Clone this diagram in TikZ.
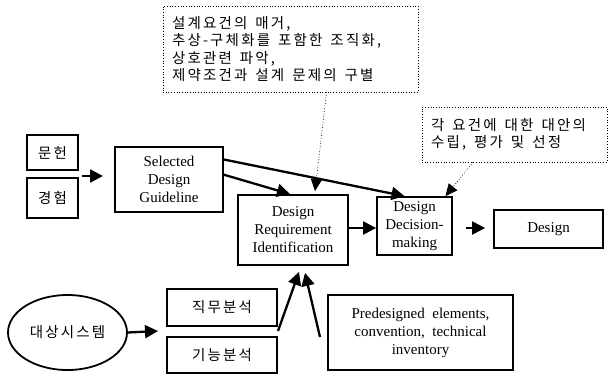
\documentclass[tikz,border=0pt]{standalone}
\usepackage{fontspec}
\setmainfont{Liberation Serif}
\newfontfamily\kr[LetterSpace=15]{Noto Sans CJK KR}
\newcommand\ks{\hspace{8pt}}
\usetikzlibrary{arrows.meta,shapes.geometric}
\begin{document}
\begin{tikzpicture}[x=1pt,y=-1pt,
  box/.style={draw,line width=1.8pt,rectangle,align=center,inner sep=0pt,
    font=\fontsize{15}{18}\selectfont},
  krbox/.style={box,font=\kr\fontsize{14.5}{18}\selectfont},
  callout/.style={draw,dotted,line width=0.7pt,rectangle,inner xsep=9pt,inner ysep=0pt,
    align=left,font=\kr\fontsize{14.5}{17.5}\selectfont},
  arr/.style={line width=2.3pt,-{Triangle[length=13pt,width=13pt]}},
  darr/.style={dotted,line width=0.7pt,-{Triangle[length=12pt,width=11pt]}}
]
\useasboundingbox (0,0) rectangle (613,375);

% left inputs
\node[krbox,minimum width=51pt,minimum height=35pt] (mun) at (52.5,152.5) {문헌};
\node[krbox,minimum width=51pt,minimum height=40pt] (gy) at (52.5,198) {경험};
\node[box,minimum width=108pt,minimum height=65pt] (sdg) at (169,179.5) {Selected\\Design\\Guideline};
\node[box,minimum width=110pt,minimum height=70pt] (dri) at (293,230) {Design\\Requirement\\Identification};
\node[box,minimum width=75pt,minimum height=58pt] (ddm) at (414.5,226) {Design\\Decision-\\making};
\node[box,minimum width=109pt,minimum height=38pt] (des) at (548.5,229) {Design};

% bottom
\node[draw,line width=1.8pt,ellipse,minimum width=119pt,minimum height=75pt,inner sep=0pt,
  font=\kr\fontsize{14.5}{18}\selectfont] (sys) at (67.5,332.5) {대상시스템};
\node[krbox,minimum width=110pt,minimum height=37pt] (jm) at (222,307.5) {직무분석};
\node[krbox,minimum width=110pt,minimum height=36pt] (gn) at (222,355) {기능분석};
\node[box,minimum width=185pt,minimum height=75pt] (pre) at (420.5,332.5)
  {Predesigned~ elements,\\convention,~ technical\\inventory};

% callouts
\node[callout,text width=237pt,minimum height=86pt] (tc) at (290.5,49)
  {설계요건의\ks 매거,\\추상-구체화를\ks 포함한\ks 조직화,\\상호관련\ks 파악,\\제약조건과\ks 설계\ks 문제의\ks 구별};
\node[callout,text width=167pt,minimum height=55pt] (rc) at (514.5,134.5)
  {각\ks 요건에\ks 대한\ks 대안의\\수립,\ks 평가\ks 및\ks 선정};

% coordinates for free ends
\coordinate (mgs) at (82,176);
\coordinate (mge) at (103,176);
\coordinate (sysE) at (158,331);
\coordinate (jgs) at (278,331);
\coordinate (prs) at (320,337);

% connectors
\draw[arr] (mgs) -- (mge);
\draw[arr] (sdg.20) -- ([xshift=-10pt]ddm.north);
\draw[arr] (sdg.5) -- ([xshift=-3pt]dri.north);
\draw[darr] ([xshift=36pt]tc.south) -- ([xshift=22pt,yshift=3pt]dri.north);
\draw[arr] ([yshift=2pt]dri.east) -- ([yshift=-2pt]ddm.west);
\draw[darr] ([xshift=-41.5pt]rc.south) -- ([xshift=31pt]ddm.north);
\draw[arr] ([xshift=13pt,yshift=-2pt]ddm.east) -- ([xshift=-8pt,yshift=1pt]des.west);
\draw[arr] (sys.east) -- (sysE);
\draw[arr] (jgs) -- ([xshift=6pt,yshift=-6pt]dri.south);
\draw[arr] (prs) -- ([xshift=12pt,yshift=-7pt]dri.south);
\end{tikzpicture}
\end{document}
